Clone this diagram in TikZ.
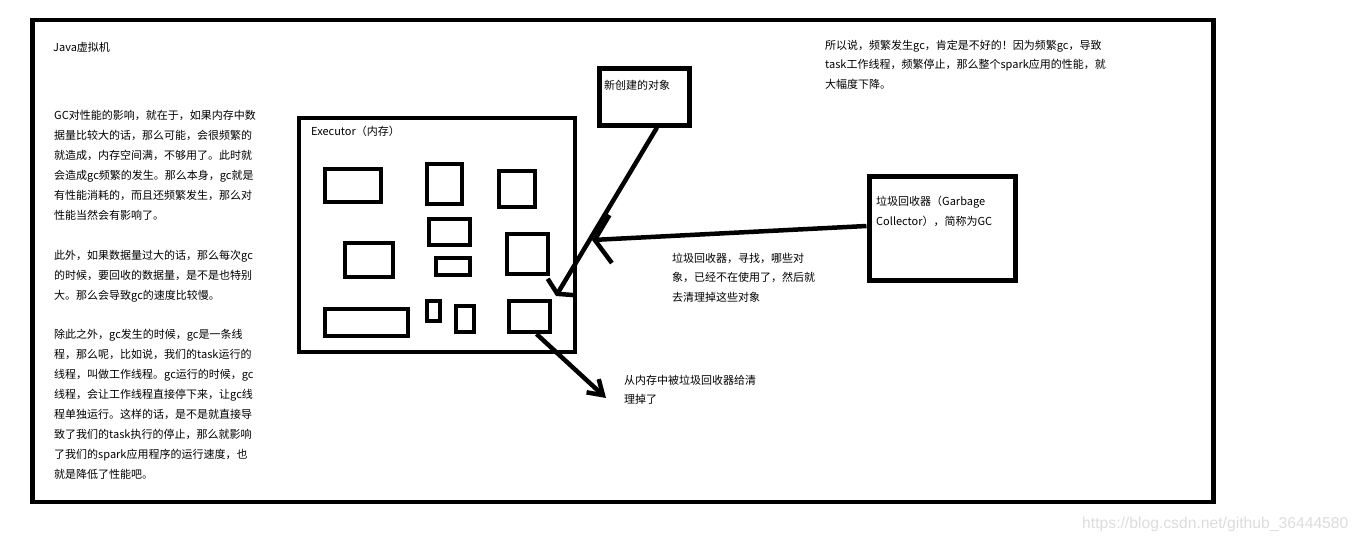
\documentclass[tikz,border=0pt]{standalone}
\usepackage{fontspec}
\setmainfont{Noto Sans CJK SC}
\newfontfamily\wmfont{Liberation Sans}
\usetikzlibrary{arrows.meta,positioning}
\definecolor{ink}{HTML}{000000}
\definecolor{wmgray}{HTML}{DCDCDC}
\tikzset{
  heapbox/.style={rectangle, draw=ink, line width=4.5pt, inner sep=0pt},
  objbox/.style={rectangle, draw=ink, line width=4pt, inner sep=0pt},
  note/.style={anchor=north west, inner sep=0pt, align=left,
    font=\fontsize{11}{19.9}\selectfont},
  handarrow/.style={draw=ink, line width=4.5pt},
}

\begin{document}
\begin{tikzpicture}[x=1pt, y=-1pt]
  \path[use as bounding box] (0,0) rectangle (1360,543);
  \node[heapbox, minimum width=1181pt, minimum height=482pt] (jvm) at (623,261) {};
  \node[note] (jvmlbl) at (53,42) {Java虚拟机};
  \node[note] (perf) at (54,110.5) {GC对性能的影响，就在于，如果内存中数\\据量比较大的话，那么可能，会很频繁的\\就造成，内存空间满，不够用了。此时就\\会造成gc频繁的发生。那么本身，gc就是\\有性能消耗的，而且还频繁发生，那么对\\性能当然会有影响了。\\[19.9pt]此外，如果数据量过大的话，那么每次gc\\的时候，要回收的数据量，是不是也特别\\大。那么会导致gc的速度比较慢。\\[19.9pt]除此之外，gc发生的时候，gc是一条线\\程，那么呢，比如说，我们的task运行的\\线程，叫做工作线程。gc运行的时候，gc\\线程，会让工作线程直接停下来，让gc线\\程单独运行。这样的话，是不是就直接导\\致了我们的task执行的停止，那么就影响\\了我们的spark应用程序的运行速度，也\\就是降低了性能吧。};
  \node[note] (summary) at (825,39.5) {所以说，频繁发生gc，肯定是不好的！因为频繁gc，导致\\task工作线程，频繁停止，那么整个spark应用的性能，就\\大幅度下降。};

  \node[heapbox, minimum width=276pt, minimum height=234pt] (exec) at (437,235) {};
  \node[note] (execlbl) at (311,126) {Executor（内存）};
  \foreach \i/\cx/\cy/\w/\h in {1/353/185.5/56/33, 2/444.5/184/35/40,
      3/517/189/36/36, 4/449.5/232/41/26, 5/369/260/48/34,
      6/527.5/254/41/40, 7/453/266.5/34/17, 8/366.5/322.5/83/27,
      9/433.5/311/13/20, 10/465/319/18/26, 11/529.5/316.5/41/31}
    \node[objbox, minimum width=\w pt, minimum height=\h pt] (blk\i) at (\cx,\cy) {};

  \node[heapbox, line width=5pt, minimum width=90pt, minimum height=56pt] (newobj) at (644,97) {};
  \node[note] (newlbl) at (604,80) {新创建的对象};
  \node[heapbox, line width=5pt, minimum width=146pt, minimum height=104pt] (gcbox) at (942,228) {};
  \node[note] (gclbl) at (876,195.5) {垃圾回收器（Garbage\\Collector），简称为GC};
  \node[note] (gcdesc) at (672,252.5) {垃圾回收器，寻找，哪些对\\象，已经不在使用了，然后就\\去清理掉这些对象};
  \node[note] (gonelbl) at (624,374.5) {从内存中被垃圾回收器给清\\理掉了};

  \coordinate (newtip) at (556,296);
  \coordinate (gctip) at (592,240);
  \coordinate (gone) at (606,398);
  \draw[handarrow, -{Straight Barb[length=8pt, width=32pt]}] ([xshift=13pt]newobj.south) -- (newtip);
  \draw[handarrow, -{Straight Barb[length=16pt, width=48pt]}] ([yshift=2pt]gcbox.west) -- (gctip);
  \draw[handarrow, -{Straight Barb[length=14pt, width=18pt]}] ([xshift=7pt]blk11.south) -- (gone);

  \node[anchor=west, inner sep=0pt, text=wmgray, font=\wmfont\fontsize{15.7}{16}\selectfont] (wmark) at (1082,524) {https://blog.csdn.net/github\_36444580};
\end{tikzpicture}
\end{document}
